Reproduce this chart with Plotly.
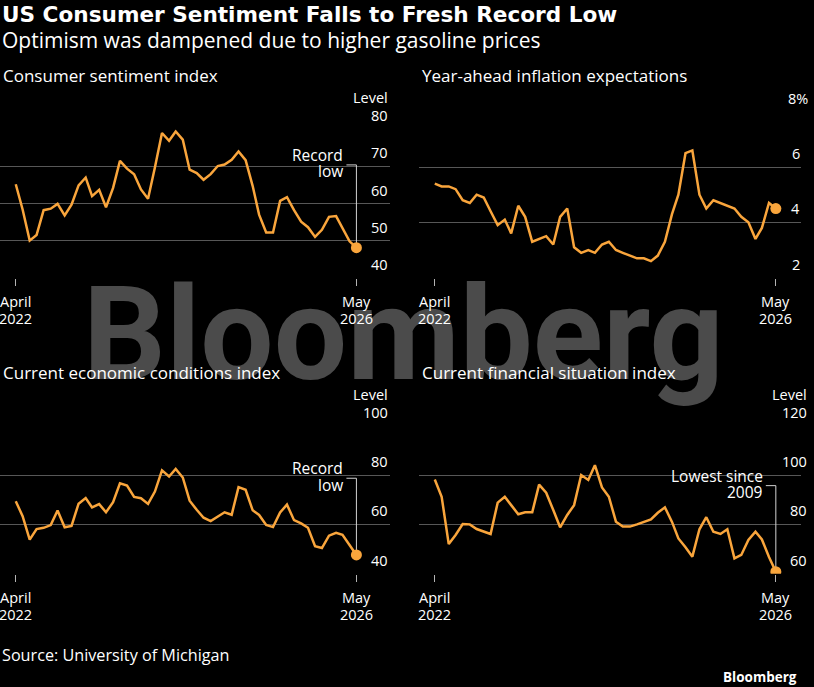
import pandas as pd
import plotly.graph_objects as go

W, H = 814, 687

# monthly readings, April 2022 .. May 2026
months = pd.date_range("2022-04-01", "2026-05-01", freq="MS")

sentiment = [65.2, 58.4, 50.0, 51.5, 58.2, 58.6, 59.9, 56.8, 59.7,
             64.9, 67.0, 62.0, 63.7, 59.0, 64.2, 71.5, 69.4, 67.9, 63.8, 61.3, 69.7,
             79.0, 76.9, 79.4, 77.2, 69.1, 68.2, 66.4, 67.9, 70.1, 70.5, 71.8, 74.0,
             71.7, 64.7, 57.0, 52.2, 52.2, 60.7, 61.7, 58.2, 55.1, 53.6, 51.0, 52.9,
             56.4, 56.6, 53.3, 49.8, 48.1]

inflation = [5.4, 5.3, 5.3, 5.2, 4.8, 4.7, 5.0, 4.9, 4.4,
             3.9, 4.1, 3.6, 4.6, 4.2, 3.3, 3.4, 3.5, 3.2, 4.2, 4.5, 3.1,
             2.9, 3.0, 2.9, 3.2, 3.3, 3.0, 2.9, 2.8, 2.7, 2.7, 2.6, 2.8,
             3.3, 4.3, 5.0, 6.5, 6.6, 5.0, 4.5, 4.8, 4.7, 4.6, 4.5, 4.2,
             4.0, 3.4, 3.8, 4.7, 4.5]

conditions = [69.4, 63.3, 53.8, 58.1, 58.6, 59.7, 65.6, 58.8, 59.4,
              68.4, 70.7, 66.9, 68.2, 64.9, 69.0, 76.6, 75.7, 71.1, 70.6, 68.3, 73.3,
              81.9, 79.4, 82.5, 79.0, 69.6, 65.9, 62.7, 61.3, 63.3, 64.9, 63.9, 75.1,
              74.0, 65.7, 63.8, 59.8, 58.9, 64.8, 68.0, 61.7, 60.4, 58.6, 51.1, 50.4,
              55.4, 56.6, 55.8, 51.6, 47.6]

financial = [98.2, 91.2, 72.0, 75.7, 80.1, 80.0, 78.1, 77.0, 76.1,
             88.8, 91.2, 87.8, 84.1, 84.9, 84.9, 96.1, 92.8, 85.8, 78.8, 83.8, 87.8,
             100.0, 98.0, 104.0, 95.0, 91.2, 81.1, 79.1, 79.1, 80.0, 81.1, 82.0, 84.7,
             86.9, 81.0, 74.3, 70.7, 66.9, 78.0, 82.9, 77.0, 76.1, 78.0, 66.2, 67.6,
             73.7, 77.0, 73.9, 66.8, 60.8]

titles = ["Consumer sentiment index", "Year-ahead inflation expectations",
          "Current economic conditions index", "Current financial situation index"]
ytick_vals = [[40, 50, 60, 70, 80], [2, 4, 6, 8], [40, 60, 80, 100], [60, 80, 100, 120]]
top_tick_suffix = ["", "%", "", ""]
unit_labels = ["Level", None, "Level", "Level"]
callouts = [["Record", "low"], None, ["Record", "low"], ["Lowest since", "2009"]]
callout_heights = [70.4, None, 78.7, 95.7]

ORANGE = "#f9a53c"
GRID = "#575757"
TICK = "#b4b4b4"
LEADER = "#d2d2d2"
WHITE = "#ffffff"
FONT = "Open Sans"


def px(x):
    return x / W


def py(y):
    return 1 - y / H


# pixel layout of each panel: plot box, right edge of tick labels, title row
panels = [
    dict(box=(0, 390, 129.3, 277.7), xr=("2022-01-22", "2026-09-25"), lab=389.5, ty=76),
    dict(box=(419, 801, 111.7, 277.7), xr=("2022-01-22", "2026-08-19"), lab=801.5, ty=76),
    dict(box=(0, 390, 425.7, 573.7), xr=("2022-01-22", "2026-09-25"), lab=389.5, ty=372.5),
    dict(box=(419, 801, 425.7, 573.7), xr=("2022-01-22", "2026-08-19"), lab=808.5, ty=372.5),
]
series = [sentiment, inflation, conditions, financial]

fig = go.Figure()
annotations = [dict(text="<b>Bloomberg</b>", x=px(403), y=py(256), xref="paper", yref="paper",
                    xanchor="center", yanchor="top", showarrow=False,
                    font=dict(family="Roboto", size=130, color="#4b4b4b"))]
shapes = []
layout_axes = {}


def note(text, x, y, size=14.5, xanchor="left", bold=False, family=FONT, **kw):
    ann = dict(text=f"<b>{text}</b>" if bold else text, x=x, y=y, showarrow=False,
               xanchor=xanchor, yanchor="middle", font=dict(family=family, size=size, color=WHITE))
    ann.setdefault("xref", "paper")
    ann.setdefault("yref", "paper")
    ann.update(kw)
    annotations.append(ann)


for k, (p, vals) in enumerate(zip(panels, series), 1):
    sfx = "" if k == 1 else str(k)
    xa, ya = "x" + sfx, "y" + sfx
    x0, x1, ytop, ybot = p["box"]
    ticks = ytick_vals[k - 1]

    fig.add_trace(go.Scatter(x=months, y=vals, mode="lines", xaxis=xa, yaxis=ya,
                             line=dict(color=ORANGE, width=2.5), hoverinfo="skip", showlegend=False))
    fig.add_trace(go.Scatter(x=[months[-1]], y=[vals[-1]], mode="markers", xaxis=xa, yaxis=ya,
                             marker=dict(color=ORANGE, size=11), hoverinfo="skip", showlegend=False))

    layout_axes["xaxis" + sfx] = dict(domain=[px(x0), px(x1)], anchor=ya, range=list(p["xr"]),
                                      tickvals=[months[0], months[-1]], ticks="outside", ticklen=7,
                                      tickcolor=TICK, tickwidth=1, showticklabels=False,
                                      showgrid=False, zeroline=False, showline=False, fixedrange=True)
    layout_axes["yaxis" + sfx] = dict(domain=[py(ybot), py(ytop)], anchor=xa,
                                      range=[ticks[0], ticks[-1]], tickvals=ticks,
                                      showticklabels=False, showgrid=True, gridcolor=GRID, gridwidth=1,
                                      zeroline=False, showline=False, ticks="", fixedrange=True)

    # panel title
    note(titles[k - 1], px(x0 + 1), py(p["ty"]), size=17)

    # y tick labels sit just above their gridlines, right aligned; the % sign hangs past the edge
    suffix = top_tick_suffix[k - 1]
    for v in ticks:
        if v == ticks[-1] and suffix:
            note(f"{v}{suffix}", px(p["lab"] + 8), v, xanchor="right", yref=ya, yshift=13.5)
        else:
            note(str(v), px(p["lab"]), v, xanchor="right", yref=ya, yshift=13.5)
    if unit_labels[k - 1]:
        note(unit_labels[k - 1], px(p["lab"]), ticks[-1], xanchor="right", yref=ya, yshift=31.5)

    # x tick labels
    for d, (a, b) in zip([months[0], months[-1]], [("April", "2022"), ("May", "2026")]):
        note(a, d, ticks[0], xanchor="center", xref=xa, yref=ya, yshift=-24)
        note(b, d, ticks[0], xanchor="center", xref=xa, yref=ya, yshift=-40.5)

    # callout with leader line to the latest reading
    if callouts[k - 1]:
        h = callout_heights[k - 1]
        shapes.append(dict(type="line", xref=xa, yref=ya, xsizemode="pixel", xanchor=months[-1],
                           x0=-10, x1=0, y0=h, y1=h, line=dict(color=LEADER, width=1)))
        shapes.append(dict(type="line", xref=xa, yref=ya, x0=months[-1], x1=months[-1],
                           y0=h, y1=vals[-1], layer="between", line=dict(color=LEADER, width=1)))
        top, bottom = callouts[k - 1]
        note(top, months[-1], h, size=15.5, xanchor="right", xref=xa, yref=ya, xshift=-11, yshift=10)
        note(bottom, months[-1], h, size=15.5, xanchor="right", xref=xa, yref=ya, xshift=-11, yshift=-6.5)

note("US Consumer Sentiment Falls to Fresh Record Low", px(0), py(14.5), size=21.6, bold=True,
     family="DejaVu Sans")
note("Optimism was dampened due to higher gasoline prices", px(0), py(40.5), size=21)
note("Source: University of Michigan", px(0), py(655), size=16.2)
note("Bloomberg", px(799), py(677), size=13.5, xanchor="right", bold=True)

fig.update_layout(
    width=W, height=H,
    margin=dict(l=0, r=0, t=0, b=0),
    paper_bgcolor="#000000", plot_bgcolor="#000000",
    font=dict(family=FONT, color=WHITE),
    annotations=annotations, shapes=shapes,
    **layout_axes,
)

fig.write_html("out.html", config={"displayModeBar": False},
               post_script="document.body.style.margin='0';")
